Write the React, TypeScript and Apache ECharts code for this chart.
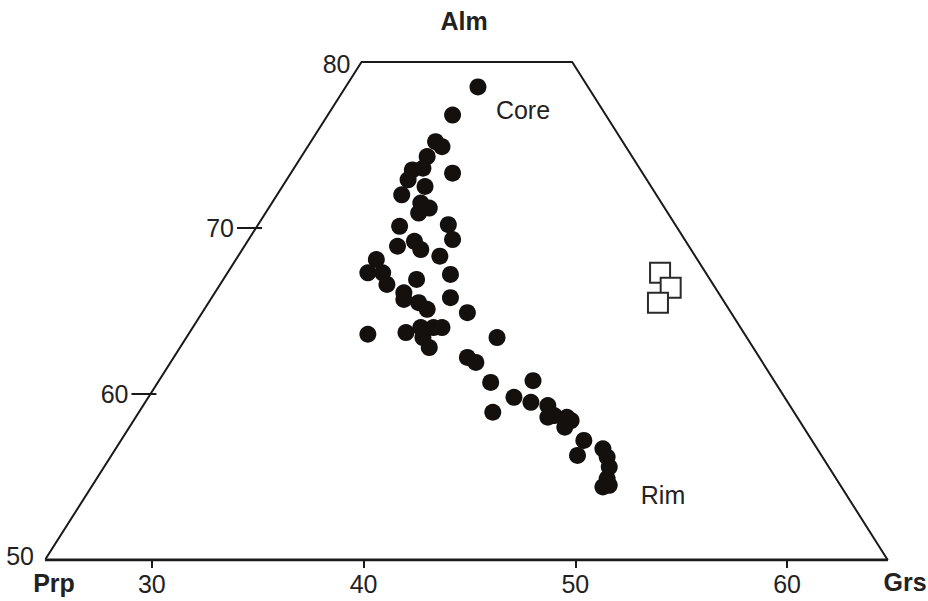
import React, { useEffect, useRef } from "react";
import * as echarts from "echarts";

// Frame (trapezoid) corners: [Grs-axis value, Alm]
const frameX = [24.95, 39.9, 49.85, 64.75, 24.95];
const frameY = [50, 80, 80, 50, 50];

// Bottom axis tick labels
const bottomTicks = [30, 40, 50, 60];
// Left (Alm) labels; ticks drawn only on the inner ones
const almLabels = [80, 70, 60, 50];
const almTicked = [70, 60];

// Filled circles (garnet analyses)
const circleGrs = [45.4, 44.2, 43.4, 43.7, 43.0, 44.2, 42.3, 42.8, 42.1, 42.9, 41.8, 42.7, 43.1, 42.6, 44.0, 44.2, 41.7, 41.6, 42.4, 42.7, 43.6, 40.6, 40.2, 40.9, 41.1, 42.5, 44.1, 41.9, 41.9, 42.6, 43.0, 44.1, 44.9, 42.0, 42.7, 43.3, 43.7, 42.8, 43.1, 40.2, 46.3, 44.9, 45.3, 46.0, 48.0, 47.1, 47.9, 46.1, 48.7, 49.0, 48.7, 49.6, 49.5, 49.8, 50.4, 50.1, 51.3, 51.5, 51.6, 51.5, 51.6, 51.3];
const circleAlm = [78.5, 76.8, 75.2, 74.9, 74.3, 73.3, 73.5, 73.6, 72.9, 72.5, 72.0, 71.5, 71.2, 70.9, 70.2, 69.3, 70.1, 68.9, 69.2, 68.7, 68.3, 68.1, 67.3, 67.3, 66.6, 66.9, 67.2, 66.1, 65.7, 65.5, 65.1, 65.8, 64.9, 63.7, 64.0, 64.0, 64.0, 63.4, 62.8, 63.6, 63.4, 62.2, 61.9, 60.7, 60.8, 59.8, 59.5, 58.9, 59.3, 58.7, 58.6, 58.6, 58.0, 58.4, 57.2, 56.3, 56.7, 56.2, 55.6, 54.9, 54.5, 54.4];

// Open squares
const squareGrs = [54.0, 54.5, 53.9];
const squareAlm = [67.3, 66.4, 65.5];

const FONT = "'Liberation Sans', Arial, Helvetica, sans-serif";
const INK = "#1a1a1a";

export default function App() {
  const ref = useRef<HTMLDivElement>(null);

  useEffect(() => {
    if (!ref.current) return;
    const chart = echarts.init(ref.current, null, { renderer: "svg" });

    const leftEdgeX = (y: number) =>
      frameX[0] + ((y - frameY[0]) / (frameY[1] - frameY[0])) * (frameX[1] - frameX[0]);

    const option: any = {
      animation: false,
      backgroundColor: "#ffffff",
      grid: { left: 46, right: 35, top: 62, bottom: 41, containLabel: false },
      xAxis: {
        type: "value",
        min: 25,
        max: 65,
        axisLine: { show: false },
        splitLine: { show: false },
        axisTick: {
          show: true,
          customValues: bottomTicks,
          length: 8,
          lineStyle: { color: INK, width: 2 },
        },
        axisLabel: {
          show: true,
          customValues: bottomTicks,
          margin: 11,
          fontSize: 25,
          fontFamily: FONT,
          color: "#222",
        },
      },
      yAxis: {
        type: "value",
        min: 50,
        max: 80,
        show: false,
        splitLine: { show: false },
      },
      graphic: [
        { type: "text", left: "center", style: { text: "Alm", x: 458, y: 21, font: `bold 25px ${FONT}`, fill: "#222", textAlign: "center", align: "center", textVerticalAlign: "middle", verticalAlign: "middle" } },
        { type: "text", style: { text: "Prp", x: 54, y: 583, font: `bold 25px ${FONT}`, fill: "#222", textAlign: "center", align: "center", textVerticalAlign: "middle", verticalAlign: "middle" } },
        { type: "text", style: { text: "Grs", x: 905, y: 582, font: `bold 25px ${FONT}`, fill: "#222", textAlign: "center", align: "center", textVerticalAlign: "middle", verticalAlign: "middle" } },
        { type: "text", style: { text: "Core", x: 523, y: 110, font: `25px ${FONT}`, fill: "#222", textAlign: "center", align: "center", textVerticalAlign: "middle", verticalAlign: "middle" } },
        { type: "text", style: { text: "Rim", x: 663, y: 495, font: `25px ${FONT}`, fill: "#222", textAlign: "center", align: "center", textVerticalAlign: "middle", verticalAlign: "middle" } },
      ],
      series: [
        {
          type: "line",
          name: "frame",
          data: frameX.map((x, i) => [x, frameY[i]]),
          symbol: "none",
          lineStyle: { color: INK, width: 2 },
          silent: true,
          z: 1,
        },
        {
          type: "line",
          name: "base",
          data: [
            [frameX[0], frameY[0]],
            [frameX[3], frameY[3]],
          ],
          symbol: "none",
          lineStyle: { color: INK, width: 3 },
          silent: true,
          z: 1,
        },
        {
          type: "custom",
          name: "almTicks",
          data: almLabels.map((v) => [v]),
          renderItem: (params: any, api: any) => {
            const y = api.value(0);
            const p = api.coord([leftEdgeX(y), y]);
            const ticked = almTicked.indexOf(y) >= 0;
            const children: any[] = [];
            if (ticked) {
              children.push({
                type: "line",
                shape: { x1: p[0] - 19, y1: p[1], x2: p[0] + 6, y2: p[1] },
                style: { stroke: INK, lineWidth: 2 },
              });
            }
            children.push({
              type: "text",
              style: {
                text: String(y),
                x: ticked ? p[0] - 22 : p[0] - 11,
                y: y === 50 ? p[1] - 4 : y === 80 ? p[1] + 2 : p[1],
                font: `25px ${FONT}`,
                fill: "#222",
                textAlign: "right",
                align: "right",
                textVerticalAlign: "middle",
                verticalAlign: "middle",
              },
            });
            return { type: "group", children };
          },
          silent: true,
          z: 3,
        },
        {
          type: "scatter",
          name: "garnet",
          data: circleGrs.map((x, i) => [x, circleAlm[i]]),
          symbol: "circle",
          symbolSize: 17,
          itemStyle: { color: "#14100d", opacity: 1 },
          z: 4,
        },
        {
          type: "scatter",
          name: "squares",
          data: squareGrs.map((x, i) => [x, squareAlm[i]]),
          symbol: "rect",
          symbolSize: 20,
          itemStyle: { color: "#ffffff", borderColor: "#2a2a2a", borderWidth: 2, opacity: 1 },
          z: 4,
        },
      ],
    };

    chart.setOption(option);
    return () => {
      chart.dispose();
    };
  }, []);

  return (
    <div
      ref={ref}
      style={{ position: "fixed", left: 0, top: 0, width: 928, height: 601, background: "#fff" }}
    />
  );
}
